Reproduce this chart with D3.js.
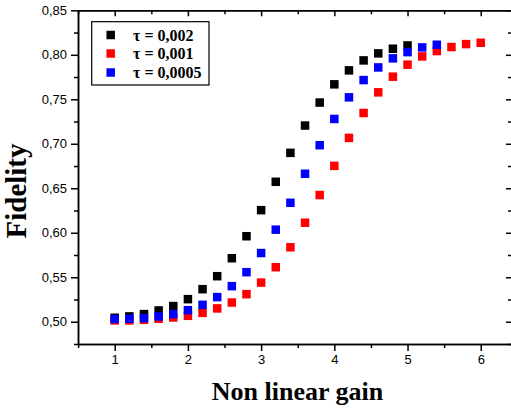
<!DOCTYPE html>
<html><head><meta charset="utf-8">
<script src="https://cdn.jsdelivr.net/npm/d3@7"></script>
<style>body{margin:0;background:#fff}</style>
</head><body>
<svg id="c" width="511" height="411"></svg>
<script>
const gainBlack = [1,1.2,1.4,1.6,1.8,2,2.2,2.4,2.6,2.8,3,3.2,3.4,3.6,3.8,4,4.2,4.4,4.6,4.8,5];
const fidBlack = [0.5045,0.506,0.5086,0.5127,0.5176,0.5254,0.5366,0.5512,0.5714,0.5961,0.6254,0.6573,0.6898,0.7205,0.7463,0.7668,0.7825,0.7937,0.8016,0.8068,0.8105];
const gainRed = [1,1.2,1.4,1.6,1.8,2,2.2,2.4,2.6,2.8,3,3.2,3.4,3.6,3.8,4,4.2,4.4,4.6,4.8,5,5.2,5.4,5.6,5.8,6];
const fidRed = [0.5015,0.5015,0.5022,0.5034,0.5048,0.5067,0.510,0.515,0.5216,0.531,0.544,0.5613,0.5837,0.6113,0.6424,0.6752,0.7066,0.7346,0.7578,0.7754,0.7889,0.7982,0.8042,0.8087,0.812,0.8135];
const gainBlue = [1,1.2,1.4,1.6,1.8,2,2.2,2.4,2.6,2.8,3,3.2,3.4,3.6,3.8,4,4.2,4.4,4.6,4.8,5,5.2,5.4];
const fidBlue = [0.503,0.5034,0.504,0.506,0.5086,0.513,0.519,0.5277,0.540,0.5557,0.5772,0.6035,0.6337,0.6663,0.6984,0.7279,0.7522,0.7716,0.7858,0.796,0.803,0.8083,0.8113];
const legendLabels = ["τ = 0,002","τ = 0,001","τ = 0,0005"];
const xTicks = [1,2,3,4,5,6];
const yTicks = [0.50,0.55,0.60,0.65,0.70,0.75,0.80,0.85];

const colors = ["#000000","#ff0000","#0000ff"];
const series = [
  {x:gainBlack,y:fidBlack,c:colors[0]},
  {x:gainRed,y:fidRed,c:colors[1]},
  {x:gainBlue,y:fidBlue,c:colors[2]}
];

const L=78, R=512, T=10.3, B=344;
const x = d3.scaleLinear().domain([0.4986, 6.427]).range([L, R]);
const y = d3.scaleLinear().domain([0.475, 0.85]).range([B, T]);
const svg = d3.select("#c");

const minorX = d3.range(0.5, 6.41, 0.5).filter(v => Math.abs(v - Math.round(v)) > 1e-6);
const minorY = d3.range(0.475, 0.851, 0.025).filter(v => Math.abs(v*20 - Math.round(v*20)) > 1e-6);

const sw = 1.5;
const fmt = d3.format(".2f");
const tickFmtY = d => fmt(d).replace(".", ",");

// bottom axis
const gB = svg.append("g").attr("transform",`translate(0,${B})`)
  .call(d3.axisBottom(x).tickValues(xTicks).tickSize(7).tickSizeOuter(0).tickFormat(d3.format("d")));
gB.append("g").call(d3.axisBottom(x).tickValues(minorX).tickSize(4).tickSizeOuter(0).tickFormat(""));
// top axis (inward)
const gT = svg.append("g").attr("transform",`translate(0,${T})`)
  .call(d3.axisTop(x).tickValues(xTicks).tickSize(-6).tickSizeOuter(0).tickFormat(""));
gT.append("g").call(d3.axisTop(x).tickValues(minorX).tickSize(-4).tickSizeOuter(0).tickFormat(""));
// left axis
const gL = svg.append("g").attr("transform",`translate(${L},0)`)
  .call(d3.axisLeft(y).tickValues(yTicks).tickSize(7).tickSizeOuter(0).tickFormat(tickFmtY));
gL.append("g").call(d3.axisLeft(y).tickValues(minorY).tickSize(4).tickSizeOuter(0).tickFormat(""));
// right axis (inward)
const gR = svg.append("g").attr("transform",`translate(${R},0)`)
  .call(d3.axisRight(y).tickValues(yTicks).tickSize(-6).tickSizeOuter(0).tickFormat(""));
gR.append("g").call(d3.axisRight(y).tickValues(minorY).tickSize(-4).tickSizeOuter(0).tickFormat(""));

svg.selectAll(".domain").attr("stroke","#000").attr("stroke-width",sw);
svg.selectAll(".tick line").attr("stroke","#000").attr("stroke-width",sw);
svg.selectAll(".tick text").attr("font-family","'Liberation Sans', Arial, sans-serif").attr("font-size",13).attr("fill","#000");
gB.selectAll(".tick text").attr("dy","1.05em").attr("y",6);
gL.selectAll(".tick text").attr("x",-11);

// points
const ms = 8.5;
series.forEach(s => {
  svg.append("g").selectAll("rect").data(s.x.map((v,i)=>[v,s.y[i]])).join("rect")
    .attr("x", d => x(d[0]) - ms/2).attr("y", d => y(d[1]) - ms/2)
    .attr("width", ms).attr("height", ms).attr("fill", s.c);
});

// legend
const lg = svg.append("g");
lg.append("rect").attr("x",91.7).attr("y",21.7).attr("width",117.3).attr("height",63.3)
  .attr("fill","#fff").attr("stroke","#000").attr("stroke-width",1.2);
const legY = [35, 53.5, 72.5];
legendLabels.forEach((t,i) => {
  lg.append("rect").attr("x",110.7-ms/2).attr("y",legY[i]-ms/2).attr("width",ms).attr("height",ms).attr("fill",colors[i]);
  lg.append("text").attr("x",133).attr("y",legY[i]+5.5).text(t)
    .attr("font-family","'Liberation Serif', 'Times New Roman', serif").attr("font-weight","bold").attr("font-size",16);
});

// titles
svg.append("text").attr("x",297.5).attr("y",399.5).attr("text-anchor","middle")
  .attr("font-family","'Liberation Serif', 'Times New Roman', serif").attr("font-weight","bold").attr("font-size",26)
  .text("Non linear gain");
svg.append("text").attr("transform","translate(26,191) rotate(-90)").attr("text-anchor","middle")
  .attr("font-family","'Liberation Serif', 'Times New Roman', serif").attr("font-weight","bold").attr("font-size",29)
  .text("Fidelity");
</script>
</body></html>
